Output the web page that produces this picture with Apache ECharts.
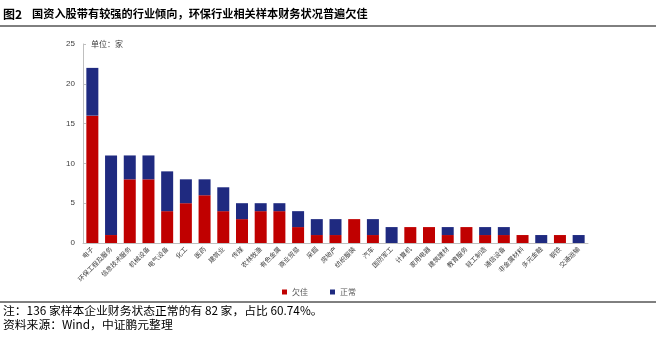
<!DOCTYPE html>
<html>
<head>
<meta charset="utf-8">
<script src="https://cdn.jsdelivr.net/npm/echarts@6/dist/echarts.min.js"></script>
<style>
html,body{margin:0;padding:0;background:#fff;}
#c{width:656px;height:337px;}
</style>
</head>
<body>
<div id="c"></div>
<script>
const categories = ['电子','环保工程及服务','信息技术服务','机械设备','电气设备','化工','医药','建筑业','传媒','农林牧渔','有色金属','商业贸易','采掘','房地产','纺织服装','汽车','国防军工','计算机','家用电器','建筑建材','教育服务','轻工制造','通信设备','非金属材料','多元金融','钢铁','交通运输'];
const poorValues = [16,1,8,8,4,5,6,4,3,4,4,2,1,1,3,1,0,2,2,1,2,1,1,1,0,1,0];
const normalValues = [6,10,3,3,5,3,2,3,2,1,1,2,2,2,0,2,2,0,0,1,0,1,1,0,1,0,1];
const yTicks = [0,5,10,15,20,25];

const font = '"Noto Sans CJK SC", "Noto Sans", sans-serif';
const chart = echarts.init(document.getElementById('c'));
chart.setOption({
  animation: false,
  backgroundColor: '#fff',
  textStyle: {fontFamily: font},
  grid: {left: 83, right: 68, top: 44, bottom: 94},
  legend: {
    left: 277, top: 283, itemWidth: 5, itemHeight: 5, itemGap: 22,
    icon: 'rect',
    textStyle: {fontSize: 8, color: '#595959', fontFamily: font},
    data: ['欠佳','正常']
  },
  xAxis: {
    type: 'category', data: categories,
    axisLine: {lineStyle: {color: '#bfbfbf'}},
    axisTick: {show: false},
    axisLabel: {interval: 0, rotate: 45, fontSize: 6.5, color: '#404040', margin: 5, fontFamily: font}
  },
  yAxis: {
    type: 'value', min: yTicks[0], max: yTicks[yTicks.length-1], interval: 5,
    name: '单位：家', nameLocation: 'end', nameGap: -4,
    nameTextStyle: {fontSize: 8, color: '#404040', align: 'left', padding: [0,0,0,8], fontFamily: font},
    axisLine: {show: true, lineStyle: {color: '#bfbfbf'}},
    axisTick: {show: true, inside: true, length: 3, lineStyle: {color: '#bfbfbf'}},
    splitLine: {show: false},
    axisLabel: {fontSize: 8, color: '#404040', margin: 8, fontFamily: 'Arial, "Liberation Sans", sans-serif'}
  },
  series: [
    {name: '欠佳', type: 'bar', stack: 's', data: poorValues, barWidth: 12, itemStyle: {color: '#C00000'}},
    {name: '正常', type: 'bar', stack: 's', data: normalValues, barWidth: 12, itemStyle: {color: '#1F2A80'}}
  ],
  graphic: [
    {type: 'text', left: 3, top: 8, style: {text: '图2', font: 'bold 12px ' + font, fill: '#000'}},
    {type: 'text', left: 32, top: 8, style: {text: '国资入股带有较强的行业倾向，环保行业相关样本财务状况普遍欠佳', font: 'bold 11.2px ' + font, fill: '#000'}},
    {type: 'line', shape: {x1: 0, y1: 26, x2: 656, y2: 26}, style: {stroke: '#000', lineWidth: 1}},
    {type: 'line', shape: {x1: 0, y1: 302, x2: 656, y2: 302}, style: {stroke: '#000', lineWidth: 1}},
    {type: 'text', left: 3, top: 305, style: {text: '注：136 家样本企业财务状态正常的有 82 家，占比 60.74%。', font: '11.8px ' + font, fill: '#000'}},
    {type: 'text', left: 3, top: 319, style: {text: '资料来源：Wind，中证鹏元整理', font: '11.8px ' + font, fill: '#000'}}
  ]
});
</script>
</body>
</html>
